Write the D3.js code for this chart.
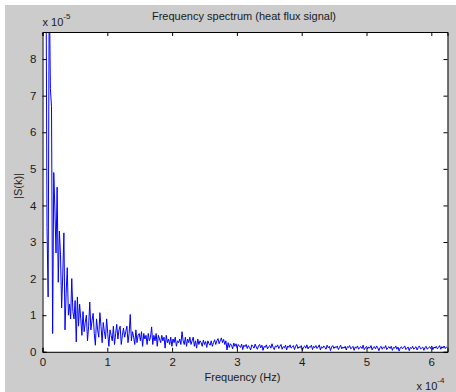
<!DOCTYPE html>
<html>
<head>
<meta charset="utf-8">
<script src="https://cdn.jsdelivr.net/npm/d3@7"></script>
<style>
  body { margin: 0; background: #fff; }
  text { font-family: "Liberation Sans", Arial, sans-serif; fill: #1a1a1a; }
</style>
</head>
<body>
<div id="chart"></div>
<script>

/******************************************************************************/
/*  Data                                                                      */
/******************************************************************************/

// first bin index and bin width (x 10^-4 Hz)
var firstBin = 3,
    binWidth = 6.25 / 360;

// |S(k)| per bin, x 10^-5
var magnitude = [
  11.8, 3.4, 1.5, 10.2, 7.2, 6.7, 0.5, 4.9, 3.9, 2.7,
  4.5, 1.9, 3.3, 2.65, 1.2, 2.1, 3.25, 0.6, 1.6, 2.3,
  1.0, 1.3, 0.9, 2.0, 1.1, 0.9, 1.4, 0.27, 1.5, 0.7,
  1.3, 0.9, 0.45, 1.1, 0.55, 0.8, 1.0, 0.3, 0.7, 1.36,
  0.6, 0.85, 1.05, 0.5, 0.18, 0.9, 0.6, 0.4, 1.07, 0.7,
  0.25, 0.8, 0.55, 0.35, 0.9, 0.5, 0.15, 0.6, 0.45, 0.3,
  0.7, 0.2, 0.5, 0.75, 0.35, 0.6, 0.7, 0.2, 0.45, 0.65,
  0.4, 0.55, 0.7, 0.25, 0.5, 1.02, 0.3, 0.55, 0.4, 0.2,
  0.6, 0.25, 0.45, 0.5, 0.3, 0.55, 0.15, 0.5, 0.35, 0.45,
  0.2, 0.5, 0.3, 0.4, 0.68, 0.2, 0.45, 0.3, 0.5, 0.15,
  0.45, 0.35, 0.25, 0.45, 0.3, 0.4, 0.1, 0.45, 0.25, 0.35,
  0.2, 0.4, 0.15, 0.35, 0.25, 0.4, 0.15, 0.3, 0.25, 0.35,
  0.2, 0.55, 0.3, 0.2, 0.4, 0.15, 0.35, 0.25, 0.4, 0.2,
  0.3, 0.4, 0.15, 0.3, 0.1, 0.35, 0.2, 0.3, 0.25, 0.15,
  0.32, 0.2, 0.28, 0.12, 0.3, 0.22, 0.18, 0.3, 0.15, 0.25,
  0.33, 0.2, 0.3, 0.36, 0.22, 0.3, 0.38, 0.25, 0.34, 0.2,
  0.3, 0.05, 0.25, 0.12, 0.22, 0.18, 0.08, 0.24, 0.15, 0.22,
  0.1, 0.2, 0.16, 0.12, 0.21, 0.06, 0.18,
  0.14, 0.2, 0.09, 0.17, 0.12, 0.05, 0.19, 0.15, 0.1, 0.21,
  0.13, 0.07, 0.16, 0.2, 0.11, 0.18, 0.04, 0.15, 0.12, 0.19,
  0.08, 0.14, 0.17, 0.1, 0.22, 0.12, 0.06, 0.16, 0.13, 0.19,
  0.09, 0.15, 0.2, 0.07, 0.14, 0.11, 0.18, 0.05, 0.16, 0.12,
  0.19, 0.1, 0.13, 0.17, 0.06, 0.15, 0.2, 0.09, 0.14, 0.11,
  0.17, 0.04, 0.13, 0.16, 0.1, 0.19, 0.08, 0.14, 0.12, 0.18,
  0.06, 0.15, 0.11, 0.17, 0.09, 0.13, 0.19, 0.05, 0.14, 0.1,
  0.16, 0.12, 0.07, 0.18, 0.11, 0.15, 0.03, 0.13, 0.17, 0.09,
  0.14, 0.11, 0.16, 0.06, 0.12, 0.18, 0.08, 0.13, 0.1, 0.15,
  0.05, 0.14, 0.12, 0.17, 0.08, 0.11, 0.15, 0.04, 0.13, 0.1,
  0.16, 0.07, 0.12, 0.14, 0.09, 0.18, 0.06, 0.11, 0.15, 0.08,
  0.13, 0.1, 0.17, 0.05, 0.12, 0.14, 0.08, 0.16, 0.11, 0.03,
  0.12, 0.15, 0.07, 0.13, 0.1, 0.17, 0.06, 0.11, 0.14, 0.09,
  0.15, 0.04, 0.12, 0.1, 0.16, 0.07, 0.13, 0.02, 0.11, 0.14,
  0.08, 0.12, 0.16, 0.06, 0.1, 0.13, 0.03, 0.12, 0.09, 0.15,
  0.07, 0.11, 0.14, 0.05, 0.12, 0.16, 0.08, 0.1, 0.13, 0.04,
  0.12, 0.15, 0.07, 0.11, 0.14, 0.09, 0.16, 0.06, 0.13, 0.1,
  0.15, 0.08, 0.12, 0.17, 0.07, 0.14, 0.1, 0.16, 0.09, 0.13,
  0.11
];

var xTicks = [0, 1, 2, 3, 4, 5, 6],
    yTicks = [0, 1, 2, 3, 4, 5, 6, 7, 8];

var title  = 'Frequency spectrum (heat flux signal)',
    xLabel = 'Frequency (Hz)',
    yLabel = '|S(k)|';


/******************************************************************************/
/*  Layout                                                                    */
/******************************************************************************/

var W = 456, H = 392,
    pLeft = 42.5, pRight = 447.5, pTop = 32, pBottom = 351.8;

var svg = d3.select('#chart')
    .append('svg')
      .attr('width',  W)
      .attr('height', H)

// figure background
svg.append('rect')
    .attr('x', 5).attr('y', 5)
    .attr('width', W - 5).attr('height', H - 5)
    .attr('fill', '#cccccc')

// axes background
svg.append('rect')
    .attr('x', pLeft).attr('y', pTop)
    .attr('width', pRight - pLeft).attr('height', pBottom - pTop)
    .attr('fill', '#fff')

var x = d3.scaleLinear().domain([0, 6.25]).range([pLeft, pRight]),
    y = d3.scaleLinear().domain([0, 8.74]).range([pBottom, pTop]);


/******************************************************************************/
/*  Spectrum line                                                             */
/******************************************************************************/

svg.append('clipPath').attr('id', 'plot-clip')
  .append('rect')
    .attr('x', pLeft).attr('y', pTop)
    .attr('width', pRight - pLeft).attr('height', pBottom - pTop)

var line = d3.line()
    .x(function(d, i){ return x((i + firstBin) * binWidth); })
    .y(function(d){ return y(d); })

svg.append('path')
    .datum(magnitude)
    .attr('clip-path', 'url(#plot-clip)')
    .attr('d', line)
    .attr('fill', 'none')
    .attr('stroke', '#0000ff')
    .attr('stroke-width', 1)


/******************************************************************************/
/*  Axes (box with inward ticks)                                              */
/******************************************************************************/

var tk = 4;

svg.append('g')
    .attr('transform', 'translate(0,' + pBottom + ')')
    .call(d3.axisBottom(x).tickValues(xTicks).tickSize(-tk).tickPadding(6)
      .tickFormat(d3.format('d')))

svg.append('g')
    .attr('transform', 'translate(0,' + pTop + ')')
    .call(d3.axisTop(x).tickValues(xTicks).tickSize(-tk).tickFormat(''))

svg.append('g')
    .attr('transform', 'translate(' + pLeft + ',0)')
    .call(d3.axisLeft(y).tickValues(yTicks).tickSize(-tk).tickPadding(6)
      .tickFormat(d3.format('d')))

svg.append('g')
    .attr('transform', 'translate(' + pRight + ',0)')
    .call(d3.axisRight(y).tickValues(yTicks).tickSize(-tk).tickFormat(''))

svg.selectAll('.domain').attr('stroke', '#000')
svg.selectAll('.tick line').attr('stroke', '#000')
svg.selectAll('.tick text')
    .attr('font-family', '"Liberation Sans", Arial, sans-serif')
    .attr('font-size', 11.5)
    .attr('fill', '#1a1a1a')


/******************************************************************************/
/*  Labels                                                                    */
/******************************************************************************/

var lab = svg.append('g').attr('font-size', 11)

lab.append('text')
    .attr('x', 244).attr('y', 19.5)
    .attr('text-anchor', 'middle')
    .text(title)

lab.append('text')
    .attr('x', 242.5).attr('y', 381)
    .attr('text-anchor', 'middle')
    .text(xLabel)

lab.append('text')
    .attr('transform', 'translate(22,186) rotate(-90)')
    .attr('text-anchor', 'middle')
    .text(yLabel)

// exponent notes
function expNote(xPos, yPos, exp){
  var t = lab.append('text').attr('x', xPos).attr('y', yPos)
  t.append('tspan').text('x 10')
  t.append('tspan').attr('dy', -7).attr('font-size', 8).text(exp)
}
expNote(42.5, 26, '-5')
expNote(416.5, 390, '-4')

</script>
</body>
</html>
